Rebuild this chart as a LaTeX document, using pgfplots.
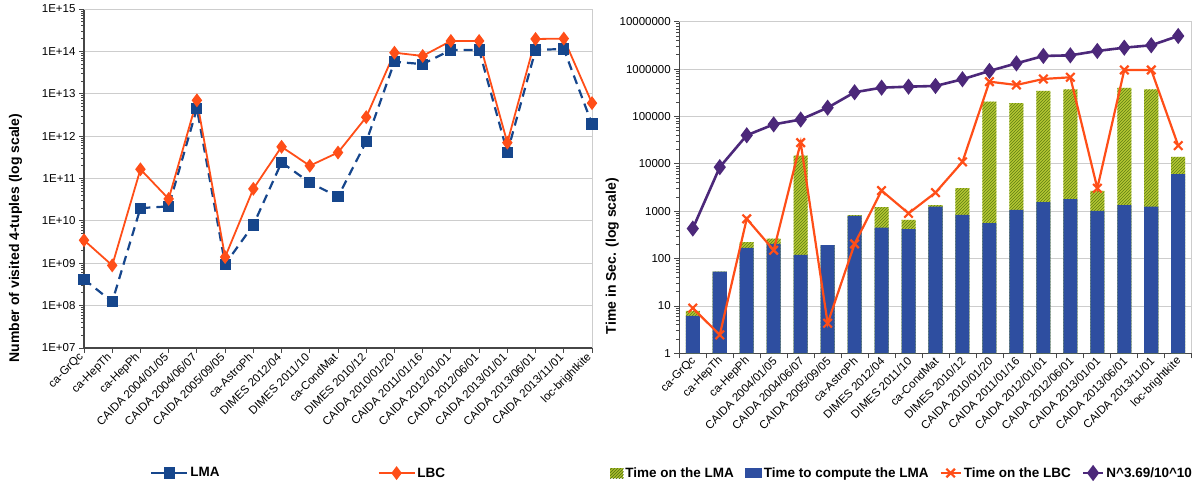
\documentclass[border=0pt]{standalone}
\usepackage{pgfplots}
\pgfplotsset{compat=1.18}
\usepackage{pgfplotstable}
\usepackage{fontspec}
\setmainfont{Liberation Sans}
\usetikzlibrary{patterns}
\definecolor{lmablue}{RGB}{22,70,140}
\definecolor{lbcred}{RGB}{255,78,24}
\definecolor{barblue}{RGB}{46,78,160}
\definecolor{bargreen}{RGB}{180,200,50}
\definecolor{hatchgreen}{RGB}{95,125,20}
\definecolor{npurple}{RGB}{76,40,122}
\definecolor{gridgray}{RGB}{205,205,205}
\definecolor{axisgray}{RGB}{70,70,70}

\def\leftminor{2e7}
\foreach \e in {7,...,14}{\foreach \m in {2,...,9}{\xdef\leftminor{\leftminor,\m e\e}}}
\def\rightminor{2}
\foreach \e in {0,...,6}{\foreach \m in {2,...,9}{\xdef\rightminor{\rightminor,\m e\e}}}

\pgfplotstableread{
x LMA LBC
0 4.2e8 3.5e9
1 1.23e8 8.9e8
2 2.0e10 1.65e11
3 2.2e10 3.3e10
4 4.5e12 7.0e12
5 9.5e8 1.4e9
6 8.0e9 5.7e10
7 2.4e11 5.6e11
8 8.0e10 2.0e11
9 3.7e10 4.1e11
10 7.4e11 2.8e12
11 5.7e13 9.3e13
12 5.0e13 7.8e13
13 1.08e14 1.76e14
14 1.08e14 1.76e14
15 4.1e11 7.0e11
16 1.08e14 1.96e14
17 1.14e14 2.0e14
18 1.94e12 6.0e12
}\lefttable

\pgfplotstableread{
x total blue lbc n
0 7.9 6.2 9.0 430
1 53 53 2.45 8500
2 222 168 690 40000
3 265 205 150 68000
4 14900 120 28000 86000
5 192 192 4.3 153000
6 830 796 204 324000
7 1213 451 2720 405000
8 655 420 900 425000
9 1340 1250 2470 440000
10 3050 836 11000 610000
11 205000 558 542000 912000
12 190000 1065 462000 1320000
13 345000 1548 618000 1890000
14 375000 1790 671000 1950000
15 2680 1015 3050 2410000
16 399000 1340 957000 2830000
17 375000 1250 957000 3180000
18 14000 6040 24200 4990000
}\righttable

\begin{document}
\begin{tikzpicture}[x=1pt,y=1pt]
\useasboundingbox (0,0) rectangle (1199,483);
\begin{axis}[
  scale only axis, ymode=log,
  axis lines=left,
  axis line style={-, axisgray, line width=1.5pt},
  tick align=outside,
  major tick length=5pt, minor tick length=3pt,
  tick style={axisgray, line width=0.8pt},
  ymajorgrids, grid style={gridgray, line width=0.8pt},
  minor ytick/.expanded={\leftminor},
  xtick={0,...,18},
  xticklabels={ca-GrQc,ca-HepTh,ca-HepPh,CAIDA 2004/01/05,CAIDA 2004/06/07,CAIDA 2005/09/05,ca-AstroPh,DIMES 2012/04,DIMES 2011/10,ca-CondMat,DIMES 2010/12,CAIDA 2010/01/20,CAIDA 2011/01/16,CAIDA 2012/01/01,CAIDA 2012/06/01,CAIDA 2013/01/01,CAIDA 2013/06/01,CAIDA 2013/11/01,loc-brightkite},
  x tick label style={rotate=45, anchor=east, font=\fontsize{11.5}{13}\selectfont},
  y tick label style={font=\fontsize{11.5}{13}\selectfont},
  label style={font=\bfseries\fontsize{14}{16}\selectfont},
  legend cell align=left,
  clip=false,
  at={(84pt,135pt)}, anchor=south west, width=508pt, height=339pt,
  ymin=1e7, ymax=1e15, xmin=0, xmax=18,
  ytick={1e7,1e8,1e9,1e10,1e11,1e12,1e13,1e14,1e15},
  yticklabels={1E+07,1E+08,1E+09,1E+10,1E+11,1E+12,1E+13,1E+14,1E+15},
  ylabel={Number of visited 4-tuples (log scale)},
  ylabel style={at={(axis description cs:-0.135,0.324)}, anchor=center, rotate=0},
  legend columns=2,
  legend style={draw=none, inner sep=0pt, font=\bfseries\fontsize{13.5}{16}\selectfont,
    at={(axis description cs:0.13,-0.369)}, anchor=west,
    /tikz/every even column/.append style={column sep=156pt}},
  legend image code/.code={\draw[#1, mark repeat=2, mark phase=2] plot coordinates {(0pt,0pt)(18pt,0pt)(36pt,0pt)};},
]
\draw[gridgray, line width=0.8pt] (rel axis cs:0,1) -- (rel axis cs:1,1) -- (rel axis cs:1,0);
\addplot[lmablue, line width=2.2pt, dash pattern=on 9pt off 6pt, mark=square*, mark size=4.5pt, mark options={solid},
  legend image post style={dash pattern=on 13.5pt off 9pt}] table[x=x, y=LMA] {\lefttable};
\addlegendentry{LMA}
\addplot[lbcred, line width=1.8pt, mark=diamond*, mark size=5.5pt, mark options={solid}] table[x=x, y=LBC] {\lefttable};
\addlegendentry{LBC}
\end{axis}

\begin{axis}[
  scale only axis, ymode=log,
  axis lines=left,
  axis line style={-, axisgray, line width=1.5pt},
  tick align=outside,
  major tick length=5pt, minor tick length=3pt,
  tick style={axisgray, line width=0.8pt},
  ymajorgrids, grid style={gridgray, line width=0.8pt},
  minor ytick/.expanded={\rightminor},
  xtick={-0.5,0.5,...,18.5}, xticklabels={},
  extra x ticks={0,...,18},
  extra x tick labels={ca-GrQc,ca-HepTh,ca-HepPh,CAIDA 2004/01/05,CAIDA 2004/06/07,CAIDA 2005/09/05,ca-AstroPh,DIMES 2012/04,DIMES 2011/10,ca-CondMat,DIMES 2010/12,CAIDA 2010/01/20,CAIDA 2011/01/16,CAIDA 2012/01/01,CAIDA 2012/06/01,CAIDA 2013/01/01,CAIDA 2013/06/01,CAIDA 2013/11/01,loc-brightkite},
  extra x tick style={major tick length=0pt, grid=none, tick style={draw=none}},
  x tick label style={rotate=45, anchor=east, font=\fontsize{11.5}{13}\selectfont, yshift=-5pt},
  y tick label style={font=\fontsize{11.5}{13}\selectfont},
  label style={font=\bfseries\fontsize{14}{16}\selectfont},
  legend cell align=left,
  clip=false,
  at={(679.3pt,129.7pt)}, anchor=south west, width=512.4pt, height=331.6pt,
  ymin=1, ymax=1e7, xmin=-0.5, xmax=18.5,
  ytick={1,10,100,1000,10000,100000,1000000,10000000},
  yticklabels={1,10,100,1000,10000,100000,1000000,10000000},
  ylabel={Time in Sec. (log scale)},
  ylabel style={at={(axis description cs:-0.131,0.293)}, anchor=center, rotate=0},
  legend columns=4,
  legend style={draw=none, inner sep=0pt, font=\bfseries\fontsize{13.5}{16}\selectfont,
    at={(axis description cs:-0.135,-0.361)}, anchor=west,
    /tikz/every even column/.append style={column sep=9pt}},
  legend image code/.code={\draw[#1, mark repeat=2, mark phase=2] plot coordinates {(0pt,0pt)(10pt,0pt)(20pt,0pt)};},
]
\draw[gridgray, line width=0.8pt] (rel axis cs:0,1) -- (rel axis cs:1,1) -- (rel axis cs:1,0);
\addplot[ybar, bar width=0.52, bar shift=0pt, draw=none, fill=bargreen,
  postaction={pattern=north east lines, pattern color=hatchgreen},
  legend image code/.code={\fill[bargreen] (0pt,-5pt) rectangle (13pt,5pt); \fill[pattern=north east lines, pattern color=hatchgreen] (0pt,-5pt) rectangle (13pt,5pt);}]
  table[x=x, y=total] {\righttable};
\addlegendentry{Time on the LMA}
\addplot[ybar, bar width=0.52, bar shift=0pt, draw=none, fill=barblue,
  legend image code/.code={\fill[barblue] (0pt,-5pt) rectangle (17pt,5pt);}]
  table[x=x, y=blue] {\righttable};
\addlegendentry{Time to compute the LMA}
\addplot[lbcred, line width=2.2pt, mark=x, mark size=6pt] table[x=x, y=lbc] {\righttable};
\addlegendentry{Time on the LBC}
\addplot[npurple, line width=2.6pt, mark=diamond*, mark size=6pt] table[x=x, y=n] {\righttable};
\addlegendentry{N\^{}3.69/10\^{}10}
\end{axis}
\end{tikzpicture}
\end{document}
